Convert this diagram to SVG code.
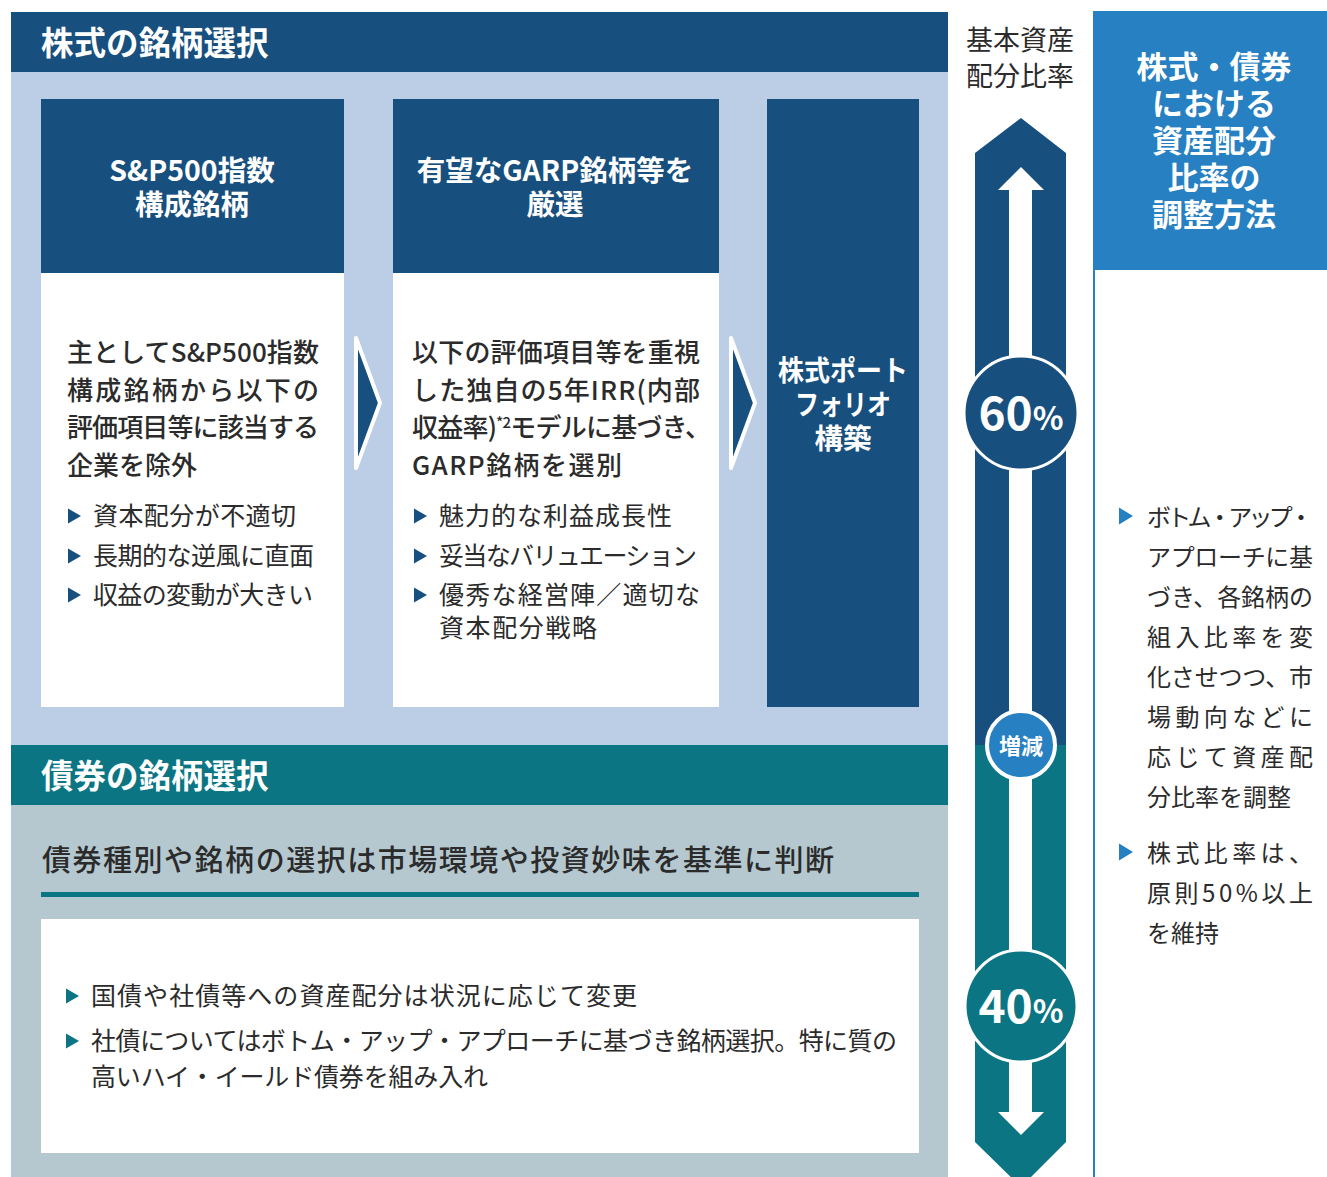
<svg xmlns="http://www.w3.org/2000/svg" width="1327" height="1177" viewBox="0 0 1327 1177">
<defs>
<style>
text{font-family:"Noto Sans CJK JP","Noto Sans",sans-serif;}
.hd{fill:#fff;font-weight:700;font-size:32.5px;}
.ch{fill:#fff;font-weight:700;font-size:28.5px;text-anchor:middle;}
.bd{fill:#2b2b2b;font-weight:500;font-size:26px;}
.bl{fill:#2b2b2b;font-weight:400;font-size:25px;}
.rb{fill:#2b2b2b;font-weight:400;font-size:24px;}
.dk{fill:#174f7e;}
.tl{fill:#0b7583;}
.bu{fill:#2680c2;}
</style>
<path id="tri" d="M0,-7.5 L13,0 L0,7.5 Z"/>
<path id="tri2" d="M0,-8.5 L14,0 L0,8.5 Z"/>
</defs>
<rect width="1327" height="1177" fill="#fff"/>

<g id="equity-section">
<rect x="11" y="72" width="937" height="673" fill="#bccde6"/>
<rect x="11" y="12" width="937" height="60" class="dk"/>
<text class="hd" x="41" y="55">株式の銘柄選択</text>
</g>

<g id="card1">
<rect x="41" y="99" width="303" height="174" class="dk"/>
<rect x="41" y="273" width="303" height="434" fill="#fff"/>
<text class="ch" x="192" y="181">S&amp;P500指数</text>
<text class="ch" x="192" y="215">構成銘柄</text>
<text class="bd" x="67" y="362" textLength="252" lengthAdjust="spacing">主としてS&amp;P500指数</text>
<text class="bd" x="67" y="400" textLength="252" lengthAdjust="spacing">構成銘柄から以下の</text>
<text class="bd" x="67" y="437" textLength="252" lengthAdjust="spacing">評価項目等に該当する</text>
<text class="bd" x="67" y="475">企業を除外</text>
<use href="#tri" x="68" y="516" class="dk"/>
<use href="#tri" x="68" y="556" class="dk"/>
<use href="#tri" x="68" y="595" class="dk"/>
<text class="bl" x="93" y="525" textLength="203" lengthAdjust="spacing">資本配分が不適切</text>
<text class="bl" x="93" y="565" textLength="221" lengthAdjust="spacing">長期的な逆風に直面</text>
<text class="bl" x="93" y="604" textLength="220" lengthAdjust="spacing">収益の変動が大きい</text>
</g>

<g id="card2">
<rect x="393" y="99" width="326" height="174" class="dk"/>
<rect x="393" y="273" width="326" height="434" fill="#fff"/>
<text class="ch" x="555" y="181">有望なGARP銘柄等を</text>
<text class="ch" x="555" y="215">厳選</text>
<text class="bd" x="412" y="362" textLength="288" lengthAdjust="spacing">以下の評価項目等を重視</text>
<text class="bd" x="412" y="400" textLength="288" lengthAdjust="spacing">した独自の5年IRR(内部</text>
<text class="bd" x="412" y="437" textLength="299" lengthAdjust="spacing">収益率)<tspan font-size="15" dy="-9">*2</tspan><tspan dy="9">モデルに基づき、</tspan></text>
<text class="bd" x="412" y="475" textLength="210" lengthAdjust="spacing">GARP銘柄を選別</text>
<use href="#tri" x="414" y="516" class="dk"/>
<use href="#tri" x="414" y="556" class="dk"/>
<use href="#tri" x="414" y="595" class="dk"/>
<text class="bl" x="439" y="525" textLength="233" lengthAdjust="spacing">魅力的な利益成長性</text>
<text class="bl" x="439" y="565" textLength="258" lengthAdjust="spacing">妥当なバリュエーション</text>
<text class="bl" x="439" y="604" textLength="261" lengthAdjust="spacing">優秀な経営陣／適切な</text>
<text class="bl" x="439" y="637" textLength="158" lengthAdjust="spacing">資本配分戦略</text>
</g>

<g id="card3">
<rect x="767" y="99" width="152" height="608" class="dk"/>
<text class="ch" x="843" y="381" font-size="26.5" textLength="130" lengthAdjust="spacingAndGlyphs">株式ポート</text>
<text class="ch" x="843" y="415" font-size="26.5" textLength="96" lengthAdjust="spacingAndGlyphs">フォリオ</text>
<text class="ch" x="843" y="449" font-size="26.5">構築</text>
</g>

<g id="connectors">
<polygon points="356,338 380,403 356,468" class="dk" stroke="#fff" stroke-width="4" stroke-linejoin="round"/>
<polygon points="731,338 755,403 731,468" class="dk" stroke="#fff" stroke-width="4" stroke-linejoin="round"/>
</g>

<g id="bond-section">
<rect x="11" y="805" width="937" height="372" fill="#b5c8d0"/>
<rect x="11" y="745" width="937" height="60" class="tl"/>
<text class="hd" x="41" y="788">債券の銘柄選択</text>
<text x="42" y="871" font-size="29" font-weight="500" fill="#2b2b2b" textLength="792" lengthAdjust="spacing">債券種別や銘柄の選択は市場環境や投資妙味を基準に判断</text>
<rect x="41" y="892" width="878" height="5" class="tl"/>
<rect x="41" y="919" width="878" height="234" fill="#fff"/>
<use href="#tri" x="66" y="996" class="tl"/>
<use href="#tri" x="66" y="1041" class="tl"/>
<text class="bl" x="91" y="1005" font-size="24" textLength="546" lengthAdjust="spacing">国債や社債等への資産配分は状況に応じて変更</text>
<text class="bl" x="91" y="1050" font-size="24" textLength="806" lengthAdjust="spacing">社債についてはボトム・アップ・アプローチに基づき銘柄選択。特に質の</text>
<text class="bl" x="91" y="1086" font-size="24" textLength="397" lengthAdjust="spacing">高いハイ・イールド債券を組み入れ</text>
</g>

<g id="allocation-arrow">
<text x="966" y="50" font-size="27" fill="#2b2b2b" font-weight="400">基本資産</text>
<text x="966" y="86" font-size="27" fill="#2b2b2b" font-weight="400">配分比率</text>
<polygon points="975,153 1021,118 1066,153 1066,745 975,745" class="dk"/>
<polygon points="975,745 1066,745 1066,1142 1021,1187 975,1142" class="tl"/>
<rect x="1009" y="189" width="23" height="924" fill="#fff"/>
<polygon points="998,190 1021,167 1044,190" fill="#fff"/>
<polygon points="998,1112 1044,1112 1021,1135" fill="#fff"/>
</g>

<g id="circle-60">
<circle cx="1021" cy="413" r="57" class="dk" stroke="#fff" stroke-width="3"/>
<text x="1021" y="430" text-anchor="middle" fill="#fff" font-weight="700"><tspan font-size="46">60</tspan><tspan font-size="32">%</tspan></text>
</g>

<g id="circle-updown">
<circle cx="1021" cy="745" r="34" class="bu" stroke="#fff" stroke-width="4"/>
<text x="1021" y="754" text-anchor="middle" fill="#fff" font-weight="700" font-size="22">増減</text>
</g>

<g id="circle-40">
<circle cx="1021" cy="1006" r="56" class="tl" stroke="#fff" stroke-width="3"/>
<text x="1021" y="1023" text-anchor="middle" fill="#fff" font-weight="700"><tspan font-size="46">40</tspan><tspan font-size="32">%</tspan></text>
</g>

<g id="adjust-panel">
<rect x="1093" y="11" width="234" height="259" class="bu"/>
<line x1="1094" y1="270" x2="1094" y2="1177" stroke="#2680c2" stroke-width="2"/>
<text x="1214" y="78" text-anchor="middle" fill="#fff" font-weight="700" font-size="31">株式・債券</text>
<text x="1214" y="115" text-anchor="middle" fill="#fff" font-weight="700" font-size="31">における</text>
<text x="1214" y="152" text-anchor="middle" fill="#fff" font-weight="700" font-size="31">資産配分</text>
<text x="1214" y="189" text-anchor="middle" fill="#fff" font-weight="700" font-size="31">比率の</text>
<text x="1214" y="226" text-anchor="middle" fill="#fff" font-weight="700" font-size="31">調整方法</text>
<use href="#tri2" x="1119" y="516" class="bu"/>
<use href="#tri2" x="1119" y="852" class="bu"/>
<text class="rb" x="1147" y="526" textLength="166" lengthAdjust="spacing">ボトム・アップ・</text>
<text class="rb" x="1147" y="566" textLength="166" lengthAdjust="spacing">アプローチに基</text>
<text class="rb" x="1147" y="606" textLength="166" lengthAdjust="spacing">づき、各銘柄の</text>
<text class="rb" x="1147" y="646" textLength="166" lengthAdjust="spacing">組入比率を変</text>
<text class="rb" x="1147" y="686" textLength="166" lengthAdjust="spacing">化させつつ、市</text>
<text class="rb" x="1147" y="726" textLength="166" lengthAdjust="spacing">場動向などに</text>
<text class="rb" x="1147" y="766" textLength="166" lengthAdjust="spacing">応じて資産配</text>
<text class="rb" x="1147" y="806">分比率を調整</text>
<text class="rb" x="1147" y="862" textLength="166" lengthAdjust="spacing">株式比率は、</text>
<text class="rb" x="1147" y="902" textLength="166" lengthAdjust="spacing">原則50%以上</text>
<text class="rb" x="1147" y="942">を維持</text>
</g>
</svg>
